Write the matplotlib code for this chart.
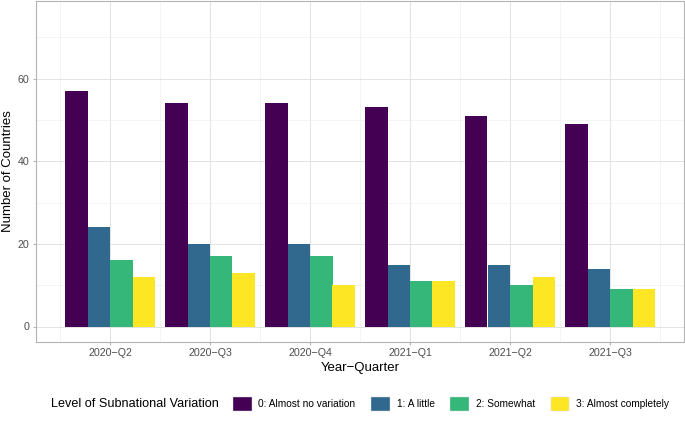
import matplotlib
matplotlib.use("Agg")
import matplotlib.pyplot as plt
import numpy as np
from matplotlib.patches import Patch

quarters = ["2020\u2212Q2", "2020\u2212Q3", "2020\u2212Q4", "2021\u2212Q1", "2021\u2212Q2", "2021\u2212Q3"]
levels = ["0: Almost no variation", "1: A little", "2: Somewhat", "3: Almost completely"]
colors = ["#440154", "#31688E", "#35B779", "#FDE725"]
level0 = [57, 54, 54, 53, 51, 49]
level1 = [24, 20, 20, 15, 15, 14]
level2 = [16, 17, 17, 11, 10, 9]
level3 = [12, 13, 10, 11, 12, 9]
series = [level0, level1, level2, level3]

plt.rcParams['font.family'] = ['Liberation Sans', 'DejaVu Sans']
fig = plt.figure(figsize=(6.85, 4.22), dpi=100)
ax = fig.add_axes([36/685, 1 - 342/422, (684-36)/685, 341/422])

x = np.arange(1, len(quarters) + 1)
w = 0.9 / 4
for i, (vals, c) in enumerate(zip(series, colors)):
    ax.bar(x - 0.45 + w * (i + 0.5), vals, width=w, color=c, linewidth=0, zorder=3)

ax.set_xlim(0.26, 6.74)
ax.set_ylim(-3.75, 78.75)
ax.set_yticks([0, 20, 40, 60])
ax.set_yticks([10, 30, 50, 70], minor=True)
ax.set_xticks(x)
ax.set_xticks(np.arange(0.5, 7.0, 1.0), minor=True)
ax.set_xticklabels(quarters)
ax.grid(True, which='major', color='#DEDEDE', linewidth=0.6, zorder=0)
ax.grid(True, which='minor', color='#EDEDED', linewidth=0.4, zorder=0)
ax.tick_params(axis='both', which='major', length=2.5, color='#B3B3B3', labelsize=7.7, labelcolor='#4D4D4D', pad=2)
ax.tick_params(axis='both', which='minor', length=0)
for s in ax.spines.values():
    s.set_color('#B3B3B3')
    s.set_linewidth(0.8)
ax.set_axisbelow(True)
ax.set_ylabel("Number of Countries", fontsize=9.5, labelpad=3)
ax.set_xlabel("Year\u2212Quarter", fontsize=9.5, labelpad=3)

fig.text(51/685, 1 - 404/422, "Level of Subnational Variation", fontsize=9.1, va='center', ha='left')
handles = [Patch(facecolor=c, edgecolor='#DDDDDD', linewidth=0.3) for c in colors]
leg = fig.legend(handles, levels, loc='center left', bbox_to_anchor=(233/685, 1 - 404/422),
                 ncol=4, frameon=False, fontsize=7.3, handlelength=1.85, handleheight=1.85,
                 handletextpad=0.65, columnspacing=1.55, borderaxespad=0, borderpad=0)

fig.savefig("out.png", dpi=100)
